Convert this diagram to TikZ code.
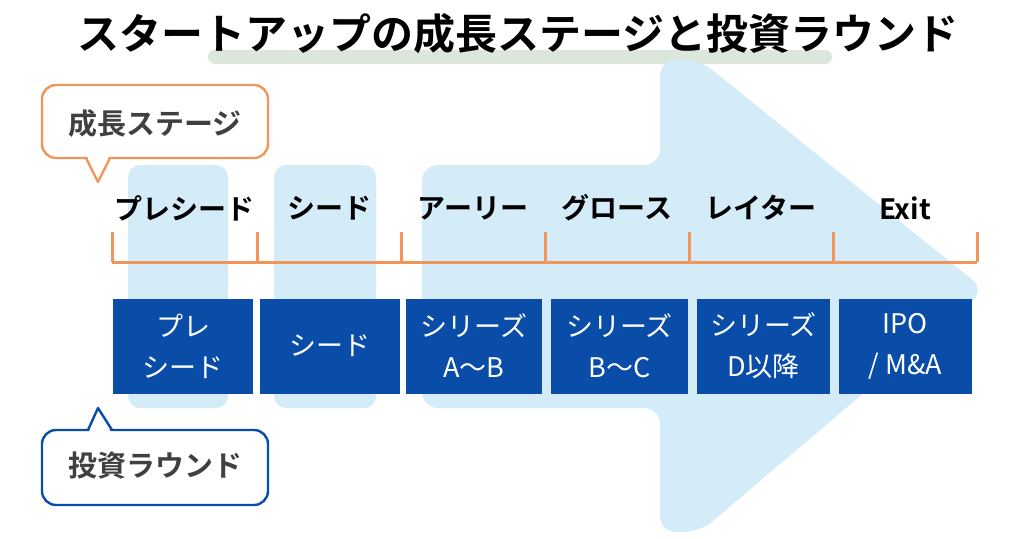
\documentclass[tikz,border=0pt]{standalone}
\usepackage{fontspec}
\setmainfont{Noto Sans CJK JP}
\newfontfamily\jpbold{Noto Sans CJK JP Bold}
\definecolor{roundblue}{HTML}{0A4DA8}
\definecolor{bglight}{HTML}{D4ECF7}
\definecolor{stageorange}{HTML}{F0965A}
\definecolor{brush}{HTML}{DCE6DC}
\begin{document}
\begin{tikzpicture}[
    x=1pt, y=-1pt,
    stagelabel/.style={font=\jpbold\fontsize{28}{30}\selectfont, text=black},
    roundbox/.style={fill=roundblue, minimum height=95pt, inner sep=0pt, text=white,
        align=center, font=\fontsize{27}{41}\selectfont},
    callout/.style={rounded corners=14pt, line width=2.4pt, fill=white},
    calltext/.style={font=\jpbold\fontsize{29}{30}\selectfont, text=black!75},
    bracket/.style={draw=stageorange, line width=3pt}
]
\useasboundingbox (0,0) rectangle (1024,538);

% title with brush stroke
\draw[brush, line width=14pt, line cap=round] (215,57) -- (825,57);
\node[font=\jpbold\fontsize{42}{46}\selectfont] (title) at (518,34) {スタートアップの成長ステージと投資ラウンド};

% light background bars and arrow
\fill[bglight, rounded corners=12pt] (128,165) rectangle (228,408);
\fill[bglight, rounded corners=12pt] (274,165) rectangle (376,408);
\fill[bglight, rounded corners=16pt] (422,165) -- (660,165) -- (660,60) -- (700,60)
    -- (985,290) -- (700,532) -- (660,532) -- (660,408) -- (422,408) -- cycle;

% stage bracket
\draw[bracket] (112,262) -- (977,262);
\foreach \tx in {112,257,401,545,689,833,977}
    \draw[bracket] (\tx,232) -- (\tx,262);

% stage labels
\node[stagelabel] (preseed) at (184,208) {プレシード};
\node[stagelabel] (seed) at (329,208) {シード};
\node[stagelabel] (early) at (473,208) {アーリー};
\node[stagelabel] (growth) at (617,208) {グロース};
\node[stagelabel] (later) at (761,208) {レイター};
\node[stagelabel] (exit) at (905,208) {Exit};

% investment rounds
\node[roundbox, minimum width=140pt] (rpre) at (183,346) {プレ\\シード};
\node[roundbox, minimum width=140pt] (rseed) at (330,346) {シード};
\node[roundbox, minimum width=136pt] (rab) at (474,346) {シリーズ\\A〜B};
\node[roundbox, minimum width=137pt] (rbc) at (619.5,346) {シリーズ\\B〜C};
\node[roundbox, minimum width=133pt] (rd) at (763.5,346) {シリーズ\\D以降};
\node[roundbox, minimum width=133pt] (ripo) at (905.5,346) {IPO\\/ M\&A};

% callouts
\draw[callout, draw=stageorange] (42,85) rectangle (268,158);
\fill[white] (86,154) -- (98,182) -- (110,154) -- cycle;
\draw[stageorange, line width=2.4pt, line join=round] (86,158) -- (98,182) -- (110,158);
\node[calltext] (stagecall) at (155,124) {成長ステージ};

\draw[callout, draw=roundblue] (42,430) rectangle (268,505);
\fill[white] (88,434) -- (98,408) -- (112,434) -- cycle;
\draw[roundblue, line width=2.4pt, line join=round] (88,430) -- (98,408) -- (112,430);
\node[calltext] (roundcall) at (155,466) {投資ラウンド};
\end{tikzpicture}
\end{document}
